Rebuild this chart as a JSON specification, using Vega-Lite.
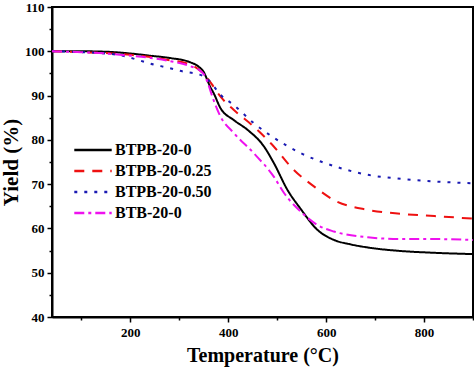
{
  "$schema": "https://vega.github.io/schema/vega-lite/v6.json",
  "width": 421,
  "height": 310,
  "autosize": {"type": "none"},
  "padding": {"left": 52, "top": 7, "right": 1, "bottom": 52},
  "config": {"view": {"stroke": "black", "strokeWidth": 2}, "font": "Liberation Serif"},
  "datasets": {
    "tga": [
      {"s": "BTPB-20-0", "t": 40, "y": 100}, {"s": "BTPB-20-0", "t": 100, "y": 100}, {"s": "BTPB-20-0", "t": 150, "y": 99.9}, {"s": "BTPB-20-0", "t": 200, "y": 99.5}, {"s": "BTPB-20-0", "t": 241, "y": 99}, {"s": "BTPB-20-0", "t": 280, "y": 98.5}, {"s": "BTPB-20-0", "t": 323, "y": 97.5}, {"s": "BTPB-20-0", "t": 340, "y": 96.5}, {"s": "BTPB-20-0", "t": 350, "y": 95.3}, {"s": "BTPB-20-0", "t": 357, "y": 93.6}, {"s": "BTPB-20-0", "t": 363, "y": 92}, {"s": "BTPB-20-0", "t": 370, "y": 90.6}, {"s": "BTPB-20-0", "t": 384, "y": 87.2}, {"s": "BTPB-20-0", "t": 411, "y": 84.5}, {"s": "BTPB-20-0", "t": 439, "y": 82.3}, {"s": "BTPB-20-0", "t": 473, "y": 78.5}, {"s": "BTPB-20-0", "t": 493, "y": 74.8}, {"s": "BTPB-20-0", "t": 521, "y": 68.7}, {"s": "BTPB-20-0", "t": 548, "y": 64.4}, {"s": "BTPB-20-0", "t": 582, "y": 59.7}, {"s": "BTPB-20-0", "t": 616, "y": 57.4}, {"s": "BTPB-20-0", "t": 650, "y": 56.4}, {"s": "BTPB-20-0", "t": 685, "y": 55.7}, {"s": "BTPB-20-0", "t": 753, "y": 54.9}, {"s": "BTPB-20-0", "t": 821, "y": 54.5}, {"s": "BTPB-20-0", "t": 900, "y": 54.2},
      {"s": "BTPB-20-0.25", "t": 40, "y": 100}, {"s": "BTPB-20-0.25", "t": 100, "y": 99.8}, {"s": "BTPB-20-0.25", "t": 150, "y": 99.6}, {"s": "BTPB-20-0.25", "t": 200, "y": 99.2}, {"s": "BTPB-20-0.25", "t": 241, "y": 98.7}, {"s": "BTPB-20-0.25", "t": 280, "y": 98}, {"s": "BTPB-20-0.25", "t": 323, "y": 97}, {"s": "BTPB-20-0.25", "t": 344, "y": 95.5}, {"s": "BTPB-20-0.25", "t": 357, "y": 94}, {"s": "BTPB-20-0.25", "t": 370, "y": 92}, {"s": "BTPB-20-0.25", "t": 384, "y": 89.8}, {"s": "BTPB-20-0.25", "t": 411, "y": 86.8}, {"s": "BTPB-20-0.25", "t": 452, "y": 83}, {"s": "BTPB-20-0.25", "t": 493, "y": 78.5}, {"s": "BTPB-20-0.25", "t": 534, "y": 73.2}, {"s": "BTPB-20-0.25", "t": 575, "y": 69.5}, {"s": "BTPB-20-0.25", "t": 616, "y": 66.4}, {"s": "BTPB-20-0.25", "t": 685, "y": 64.2}, {"s": "BTPB-20-0.25", "t": 753, "y": 63.3}, {"s": "BTPB-20-0.25", "t": 821, "y": 62.8}, {"s": "BTPB-20-0.25", "t": 900, "y": 62.2},
      {"s": "BTPB-20-0.50", "t": 40, "y": 100}, {"s": "BTPB-20-0.50", "t": 100, "y": 99.8}, {"s": "BTPB-20-0.50", "t": 150, "y": 99.5}, {"s": "BTPB-20-0.50", "t": 180, "y": 99.1}, {"s": "BTPB-20-0.50", "t": 214, "y": 98.1}, {"s": "BTPB-20-0.50", "t": 241, "y": 97.2}, {"s": "BTPB-20-0.50", "t": 280, "y": 96.2}, {"s": "BTPB-20-0.50", "t": 309, "y": 95.4}, {"s": "BTPB-20-0.50", "t": 340, "y": 94.8}, {"s": "BTPB-20-0.50", "t": 355, "y": 94}, {"s": "BTPB-20-0.50", "t": 364, "y": 93}, {"s": "BTPB-20-0.50", "t": 384, "y": 90.2}, {"s": "BTPB-20-0.50", "t": 411, "y": 87.9}, {"s": "BTPB-20-0.50", "t": 452, "y": 83.8}, {"s": "BTPB-20-0.50", "t": 493, "y": 80.5}, {"s": "BTPB-20-0.50", "t": 548, "y": 77}, {"s": "BTPB-20-0.50", "t": 589, "y": 75.1}, {"s": "BTPB-20-0.50", "t": 630, "y": 73.6}, {"s": "BTPB-20-0.50", "t": 685, "y": 72.1}, {"s": "BTPB-20-0.50", "t": 753, "y": 71.2}, {"s": "BTPB-20-0.50", "t": 821, "y": 70.6}, {"s": "BTPB-20-0.50", "t": 900, "y": 70.2},
      {"s": "BTB-20-0", "t": 40, "y": 100}, {"s": "BTB-20-0", "t": 100, "y": 99.8}, {"s": "BTB-20-0", "t": 150, "y": 99.5}, {"s": "BTB-20-0", "t": 200, "y": 99}, {"s": "BTB-20-0", "t": 241, "y": 98.5}, {"s": "BTB-20-0", "t": 280, "y": 97.8}, {"s": "BTB-20-0", "t": 323, "y": 96.6}, {"s": "BTB-20-0", "t": 344, "y": 95.5}, {"s": "BTB-20-0", "t": 352, "y": 94.5}, {"s": "BTB-20-0", "t": 357, "y": 93.2}, {"s": "BTB-20-0", "t": 370, "y": 89}, {"s": "BTB-20-0", "t": 384, "y": 85.3}, {"s": "BTB-20-0", "t": 411, "y": 81.6}, {"s": "BTB-20-0", "t": 452, "y": 77}, {"s": "BTB-20-0", "t": 493, "y": 71.7}, {"s": "BTB-20-0", "t": 514, "y": 68}, {"s": "BTB-20-0", "t": 548, "y": 63.8}, {"s": "BTB-20-0", "t": 582, "y": 60.8}, {"s": "BTB-20-0", "t": 616, "y": 59.3}, {"s": "BTB-20-0", "t": 685, "y": 58}, {"s": "BTB-20-0", "t": 753, "y": 57.6}, {"s": "BTB-20-0", "t": 821, "y": 57.6}, {"s": "BTB-20-0", "t": 900, "y": 57.4}
    ]
  },
  "data": {"name": "tga"},
  "layer": [
    {
      "mark": {"type": "line", "strokeWidth": 2, "interpolate": "monotone", "clip": true},
      "encoding": {
        "x": {"field": "t", "type": "quantitative", "scale": {"domain": [40, 900], "nice": false},
          "axis": {"orient": "bottom", "values": [200, 400, 600, 800], "grid": false, "domainWidth": 2, "domainColor": "black", "tickColor": "black", "tickWidth": 1.5, "tickSize": 5,
            "labelFont": "Liberation Serif", "labelFontWeight": "bold", "labelFontSize": 13, "labelColor": "black", "labelPadding": 4,
            "title": "Temperature (°C)", "titleFont": "Liberation Serif", "titleFontWeight": "bold", "titleFontSize": 20, "titleColor": "black", "titlePadding": 6}},
        "y": {"field": "y", "type": "quantitative", "scale": {"domain": [40, 110], "nice": false},
          "axis": {"orient": "left", "values": [40, 50, 60, 70, 80, 90, 100, 110], "grid": false, "domainWidth": 2, "domainColor": "black", "tickColor": "black", "tickWidth": 1.5, "tickSize": 5,
            "labelFont": "Liberation Serif", "labelFontWeight": "bold", "labelFontSize": 13, "labelColor": "black", "labelPadding": 3,
            "title": "Yield (%)", "titleFont": "Liberation Serif", "titleFontWeight": "bold", "titleFontSize": 21, "titleColor": "black", "titlePadding": 3}},
        "color": {"field": "s", "type": "nominal",
          "scale": {"domain": ["BTPB-20-0", "BTPB-20-0.25", "BTPB-20-0.50", "BTB-20-0"], "range": ["#000000", "#ee1111", "#1a1ab3", "#ee11ee"]},
          "legend": {"title": null, "orient": "none", "legendX": 30, "legendY": 132, "padding": 0, "symbolType": "M-2,0H2", "symbolSize": 350, "symbolStrokeWidth": 2.5, "rowPadding": 2,
            "labelFont": "Liberation Serif", "labelFontWeight": "bold", "labelFontSize": 16, "labelColor": "black", "labelOffset": 11, "labelLimit": 200}},
        "strokeDash": {"field": "s", "type": "nominal",
          "scale": {"domain": ["BTPB-20-0", "BTPB-20-0.25", "BTPB-20-0.50", "BTB-20-0"], "range": [[1, 0], [10, 8], [3, 7], [10, 4, 3, 4]]},
          "legend": {"title": null}}
      }
    },
    {
      "mark": {"type": "line", "opacity": 0},
      "encoding": {
        "x": {"field": "t", "type": "quantitative",
          "axis": {"orient": "bottom", "values": [100, 300, 500, 700, 900], "labels": false, "domain": false, "grid": false, "tickColor": "black", "tickWidth": 1.5, "tickSize": 3, "title": null}},
        "y": {"field": "y", "type": "quantitative",
          "axis": {"orient": "left", "values": [45, 55, 65, 75, 85, 95, 105], "labels": false, "domain": false, "grid": false, "tickColor": "black", "tickWidth": 1.5, "tickSize": 3, "title": null}},
        "detail": {"field": "s", "type": "nominal"}
      }
    }
  ],
  "resolve": {"axis": {"x": "independent", "y": "independent"}}
}
